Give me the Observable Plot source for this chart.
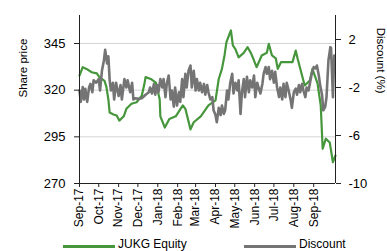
<!DOCTYPE html>
<html><head><meta charset="utf-8">
<script src="https://cdn.jsdelivr.net/npm/d3@7"></script>
<script src="https://cdn.jsdelivr.net/npm/@observablehq/plot@0.6"></script>
<style>
body{margin:0;background:#fff;font-family:"Liberation Sans",Arial,sans-serif;}
#chart svg{display:block;}
#legend{position:relative;width:387px;height:15px;overflow:hidden;font-size:12px;line-height:14px;color:#000;}
#legend .sw{position:absolute;height:3px;}
#legend .tx{position:absolute;white-space:nowrap;}
</style></head><body>
<div id="chart"></div>
<div id="legend"></div>
<script>
const greenName = "JUKG Equity";
const greyName = "Discount";
const leftTicks = [270, 295, 320, 345];
const rightTicks = [-10, -6, -2, 2];
const monthTicks = ["2017-09-01","2017-10-01","2017-11-01","2017-12-01","2018-01-01","2018-02-01","2018-03-01","2018-04-01","2018-05-01","2018-06-01","2018-07-01","2018-08-01","2018-09-01"];

const greenDates = ["2017-09-01","2017-09-06","2017-09-12","2017-09-20","2017-09-28","2017-10-02","2017-10-10","2017-10-13","2017-10-16","2017-10-18","2017-10-24","2017-10-29","2017-11-02","2017-11-09","2017-11-13","2017-11-21","2017-11-29","2017-12-07","2017-12-11","2017-12-13","2017-12-21","2017-12-29","2018-01-04","2018-01-05","2018-01-12","2018-01-19","2018-01-29","2018-02-09","2018-02-13","2018-02-21","2018-02-26","2018-03-09","2018-03-21","2018-04-01","2018-04-06","2018-04-11","2018-04-15","2018-04-18","2018-04-25","2018-04-28","2018-05-02","2018-05-07","2018-05-15","2018-05-21","2018-05-26","2018-05-30","2018-06-04","2018-06-12","2018-06-20","2018-06-23","2018-06-28","2018-07-04","2018-07-07","2018-07-12","2018-07-19","2018-07-30","2018-08-04","2018-08-07","2018-08-18","2018-08-26","2018-08-30","2018-09-07","2018-09-12","2018-09-15","2018-09-20","2018-09-26","2018-10-01","2018-10-05"];
const greenValues = [327.8,332.3,331.4,329.6,329,327,325,321.6,315,308,307,306.4,303.7,306,310,312.7,313.5,317,323,327,326,324,315,306,300,304.6,306,311.8,310,299,302.8,306,311.8,314.5,326,331.4,338.6,345.7,352,344,342,337.6,340,343,340,336.8,332.3,338.6,340,344.8,338.6,337,331.4,335,335,335,341.2,336.8,322.5,325.2,331.4,323.6,311.8,288.6,294,292,281.4,285];

const greyDates = ["2017-09-01","2017-09-03","2017-09-06","2017-09-08","2017-09-10","2017-09-13","2017-09-16","2017-09-18","2017-09-21","2017-09-23","2017-09-27","2017-10-01","2017-10-03","2017-10-06","2017-10-09","2017-10-11","2017-10-14","2017-10-16","2017-10-18","2017-10-20","2017-10-23","2017-10-25","2017-10-28","2017-11-01","2017-11-04","2017-11-06","2017-11-10","2017-11-13","2017-11-15","2017-11-19","2017-11-22","2017-11-24","2017-11-27","2017-12-02","2017-12-07","2017-12-13","2017-12-18","2017-12-20","2017-12-23","2017-12-26","2017-12-28","2017-12-31","2018-01-02","2018-01-05","2018-01-08","2018-01-10","2018-01-13","2018-01-15","2018-01-18","2018-01-21","2018-01-23","2018-01-26","2018-01-28","2018-01-31","2018-02-03","2018-02-05","2018-02-08","2018-02-10","2018-02-13","2018-02-15","2018-02-18","2018-02-21","2018-02-23","2018-02-26","2018-03-01","2018-03-03","2018-03-06","2018-03-08","2018-03-11","2018-03-14","2018-03-16","2018-03-19","2018-03-21","2018-03-24","2018-03-27","2018-03-29","2018-04-01","2018-04-03","2018-04-06","2018-04-09","2018-04-11","2018-04-14","2018-04-16","2018-04-19","2018-04-21","2018-04-24","2018-04-27","2018-04-29","2018-05-02","2018-05-05","2018-05-07","2018-05-10","2018-05-12","2018-05-15","2018-05-17","2018-05-20","2018-05-23","2018-05-25","2018-05-28","2018-05-31","2018-06-02","2018-06-05","2018-06-07","2018-06-10","2018-06-13","2018-06-15","2018-06-18","2018-06-20","2018-06-23","2018-06-25","2018-06-28","2018-07-01","2018-07-03","2018-07-06","2018-07-09","2018-07-11","2018-07-14","2018-07-16","2018-07-19","2018-07-21","2018-07-24","2018-07-27","2018-07-29","2018-08-01","2018-08-04","2018-08-06","2018-08-09","2018-08-11","2018-08-14","2018-08-16","2018-08-19","2018-08-21","2018-08-24","2018-08-27","2018-08-29","2018-09-01","2018-09-04","2018-09-06","2018-09-09","2018-09-11","2018-09-14","2018-09-16","2018-09-19","2018-09-21","2018-09-24","2018-09-27","2018-09-28","2018-10-01","2018-10-03"];
const greyValues = [-2.25,-3.2,-1.97,-3.0,-2.1,-3.2,-1.97,-1.7,-2.4,-1.4,-1.6,-1.3,-2.25,-0.6,0.25,1.14,0.0,0.6,-1.4,-2.25,-1.6,-3.0,-1.6,-2.7,-1.8,-3.0,-1.3,-2.0,-1.4,-2.4,-1.6,-3.0,-2.9,-2.95,-2.9,-2.6,-2.4,-2.0,-2.5,-1.7,-2.6,-1.8,-2.4,-1.3,-2.0,-1.3,-2.8,-1.7,-1.0,-3.0,-2.25,-3.6,-2.0,-3.5,-2.4,-3.2,-1.3,-2.8,-0.86,-2.0,-0.6,-0.17,-2.0,-0.6,-2.25,-1.3,-2.25,-1.6,-2.4,-1.7,-2.6,-1.8,-2.4,-3.0,-2.8,-3.9,-4.3,-4.9,-3.7,-4.3,-3.5,-4.2,-3.9,-2.25,-3.0,-1.6,-0.86,-2.5,-1.6,-2.25,-1.4,-4.2,-2.5,-1.3,-2.8,-1.1,-2.4,-1.4,-2.0,-1.0,-2.8,-1.6,-2.0,-2.5,-1.7,-0.86,-0.3,-0.86,-0.3,-1.3,-0.6,-1.6,-0.7,-2.0,-2.8,-2.0,-3.0,-1.7,-2.8,-1.6,-2.25,-3.0,-3.7,-2.4,-2.1,-2.6,-1.8,-2.4,-1.7,-2.25,-2.8,-2.0,-2.25,-1.4,-0.86,-0.3,-0.4,-0.17,-1.0,-1.8,-2.6,-3.9,-3.6,-2.8,0.25,1.36,1.3,-2.8,0.67];

const GREEN = "#46963c", GREY = "#747474", AXIS = "#222";
const L0 = 270, L1 = 360, R0 = -10, R1 = 4;
const toLeft = v => L0 + (v - R0) * (L1 - L0) / (R1 - R0);
const parse = s => new Date(s + "T00:00:00Z");

const green = greenDates.map((d, i) => ({date: parse(d), value: greenValues[i]}));
const grey = greyDates.map((d, i) => ({date: parse(d), value: greyValues[i]}));
const xStart = parse("2017-09-01"), xEnd = parse("2018-10-05");

const chart = Plot.plot({
  width: 387, height: 236,
  marginLeft: 79, marginRight: 52, marginTop: 15, marginBottom: 53,
  style: {fontFamily: "'Liberation Sans', Arial, sans-serif", fontSize: "12px", color: "#000", background: "#fff"},
  x: {type: "utc", domain: [xStart, xEnd], label: null},
  y: {domain: [L0, L1], label: null},
  marks: [
    Plot.gridY(leftTicks.filter(d => d > L0), {stroke: "#d4d4d4", strokeOpacity: 1, strokeWidth: 1}),
    Plot.line(green, {x: "date", y: "value", stroke: GREEN, strokeWidth: 2.2, strokeLinejoin: "round"}),
    Plot.line(grey, {x: "date", y: d => toLeft(d.value), stroke: GREY, strokeWidth: 2.6, strokeLinejoin: "round"}),
    Plot.ruleX([xStart], {stroke: AXIS}),
    Plot.ruleX([xEnd], {stroke: AXIS}),
    Plot.ruleY([L0], {stroke: AXIS}),
    Plot.axisY(leftTicks, {anchor: "left", tickSize: 5, tickPadding: 9, stroke: AXIS, fontSize: 13, label: null, tickFormat: d => String(d)}),
    Plot.axisY(rightTicks.map(toLeft), {anchor: "right", tickSize: 5, tickPadding: 8, stroke: AXIS, fontSize: 13, label: null, tickFormat: (d, i) => String(rightTicks[i])}),
    Plot.axisX(monthTicks.map(parse), {anchor: "bottom", tickRotate: -90, tickSize: 4, tickPadding: 1, stroke: AXIS, fontSize: 12, label: null, tickFormat: d3.utcFormat("%b-%y")}),
    Plot.text(["Share price"], {frameAnchor: "left", dx: -56, dy: -2, rotate: -90, fontSize: 11.5, fill: "#000"}),
    Plot.text(["Discount (%)"], {frameAnchor: "right", dx: 45, dy: -6, rotate: 90, fontSize: 11.5, fill: "#000"})
  ]
});
document.getElementById("chart").appendChild(chart);

const legend = document.getElementById("legend");
const items = [
  {name: greenName, color: GREEN, sx: 63, sw: 52, tx: 118},
  {name: greyName, color: GREY, sx: 244, sw: 52, tx: 299}
];
for (const it of items) {
  const s = document.createElement("div");
  s.className = "sw"; s.style.left = it.sx + "px"; s.style.width = it.sw + "px";
  s.style.top = "8.5px"; s.style.background = it.color;
  legend.appendChild(s);
  const t = document.createElement("div");
  t.className = "tx"; t.style.left = it.tx + "px"; t.style.top = "1px";
  t.textContent = it.name;
  legend.appendChild(t);
}
</script>
</body></html>
